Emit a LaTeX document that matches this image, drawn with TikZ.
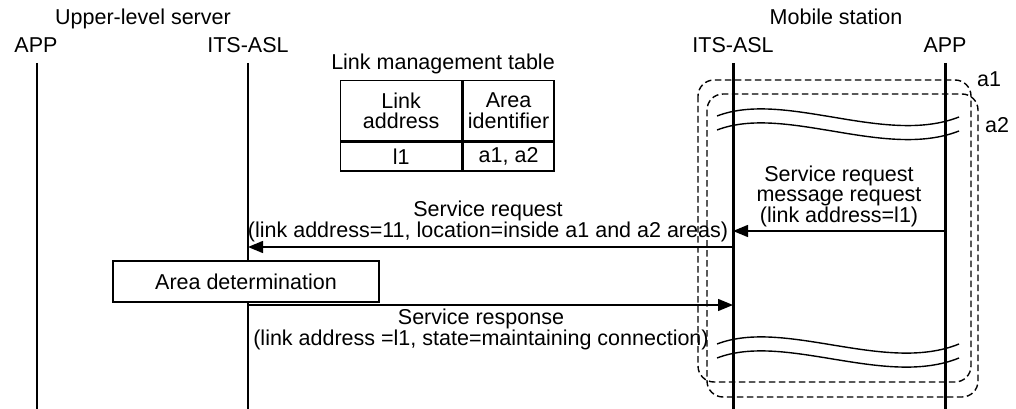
\documentclass[tikz,border=0pt]{standalone}
\usepackage{fontspec}
\setmainfont{Liberation Sans}
\usetikzlibrary{positioning, arrows.meta}

\begin{document}
\begin{tikzpicture}[
  x=1pt, y=-1pt,
  lbl/.style={font=\fontsize{21.5}{20.5}\selectfont, inner sep=0pt,
              anchor=base, align=center},
  msg/.style={draw=black, line width=1.4pt,
              -{Triangle[length=15pt, width=12pt]}},
  life/.style={draw=black, line width=3pt},
  lifethin/.style={draw=black, line width=1.3pt},
  area/.style={draw=black, line width=1.4pt,
               dash pattern=on 6.5pt off 3.5pt, rounded corners=16pt},
  wave/.style={draw=black, line width=1.4pt},
  cell/.style={draw=black, line width=1.4pt, inner sep=0pt,
               font=\fontsize{21.5}{20.5}\selectfont, align=center},
  proc/.style={draw=black, line width=1.4pt, inner sep=0pt,
               minimum width=266pt, minimum height=41pt,
               font=\fontsize{21.5}{20.5}\selectfont}]
  \useasboundingbox (0,0) rectangle (1016,409);
  % group titles and lifeline heads
  \node[lbl] (srv) at (143,25) {Upper-level server};
  \node[lbl] (sapp) at (36,53) {APP};
  \node[lbl] (sasl) at (248,53) {ITS-ASL};
  \node[lbl] (mob) at (836,25) {Mobile station};
  \node[lbl] (masl) at (733,53) {ITS-ASL};
  \node[lbl] (mapp) at (945,53) {APP};
  % areas a1 and a2
  \draw[area] (698,80) rectangle (971,382);
  \draw[area] (707,94) rectangle (978,397);
  \node[lbl] (a1) at (989,87) {a1};
  \node[lbl] (a2) at (997,132) {a2};
  % lifelines
  \coordinate (sapp top) at (37,63);   \coordinate (sapp bot) at (37,409);
  \coordinate (sasl top) at (248,63);  \coordinate (sasl bot) at (248,409);
  \coordinate (masl top) at (733,63);  \coordinate (masl bot) at (733,409);
  \coordinate (mapp top) at (945,63);  \coordinate (mapp bot) at (945,409);
  \draw[lifethin, line width=2pt] (sapp top) -- (sapp bot);
  \draw[lifethin] (sasl top) -- (sasl bot);
  \draw[life] (masl top) -- (masl bot);
  \draw[life] (mapp top) -- (mapp bot);
  % broken lines
  \draw[wave] (717,116) .. controls (785,90) and (885,146) .. (959,117);
  \draw[wave] (717,130) .. controls (785,104) and (885,160) .. (959,131);
  \draw[wave] (717,344) .. controls (785,318) and (885,374) .. (959,344);
  \draw[wave] (717,358) .. controls (785,332) and (885,388) .. (959,358);
  % link management table
  \node[lbl] (tbltitle) at (443,70) {Link management table};
  \node[cell, anchor=north west, minimum width=121pt, minimum height=60pt]
    (hdrlink) at (340,80) {Link\\address};
  \node[cell, minimum width=91pt, minimum height=60pt, right=0pt of hdrlink]
    (hdrarea) {Area\\identifier};
  \node[cell, minimum width=121pt, minimum height=29pt, below=0pt of hdrlink]
    (vallink) {l1};
  \node[cell, minimum width=91pt, minimum height=29pt, below=0pt of hdrarea]
    (valarea) {a1, a2};
  % messages
  \coordinate (m1s) at (945,231); \coordinate (m1e) at (733,231);
  \draw[msg] (m1s) -- (m1e);
  \node[lbl] (m1txt) at (839,222)
    {Service request\\message request\\(link address=l1)};
  \coordinate (m2s) at (733,247); \coordinate (m2e) at (248,247);
  \draw[msg] (m2s) -- (m2e);
  \node[lbl] (m2txt) at (488,237)
    {Service request\\(link address=11, location=inside a1 and a2 areas)};
  \node[proc, fill=white] (areadet) at (246,281.5) {Area determination};
  \coordinate (m3s) at (248,305); \coordinate (m3e) at (733,305);
  \draw[msg] (m3s) -- (m3e);
  \node[lbl] (m3txt) at (481,345)
    {Service response\\(link address =l1, state=maintaining connection)};
\end{tikzpicture}
\end{document}
